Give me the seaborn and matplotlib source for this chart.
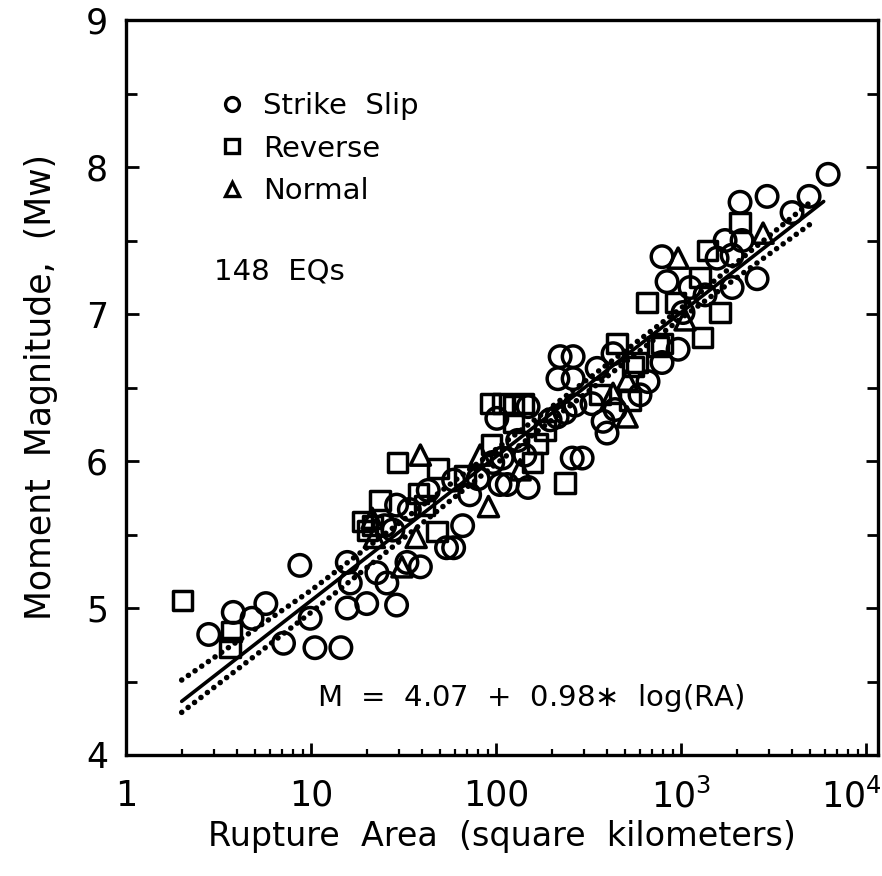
import numpy as np
import pandas as pd
import matplotlib
matplotlib.use("Agg")
import matplotlib.pyplot as plt
import matplotlib.transforms as mtrans
from matplotlib.lines import Line2D
from matplotlib.ticker import FixedLocator, NullFormatter, MultipleLocator
import seaborn as sns

# ---------------- data ----------------
ss_area = [2.8, 3.8, 4.8, 5.7, 7.1, 8.7, 9.9, 10.5, 14.5, 15.7, 16.3, 15.7, 20, 22.7,
           25.7, 29, 39, 33, 66, 54, 59, 29, 59, 101, 96, 105, 108, 115, 149, 149,
           196, 214, 236, 267, 258, 292, 222, 261, 216, 261, 352, 429, 663, 789, 330,
           379, 398, 964, 1025, 840, 789, 1566, 1888, 1730, 2137, 2084, 2917, 3980,
           4920, 6237, 2576, 1888,
           27.7, 34, 43, 72, 80, 131, 143, 440, 600, 1349, 1118, 25]
ss_mw = [4.82, 4.97, 4.93, 5.03, 4.76, 5.29, 4.93, 4.73, 4.73, 5.00, 5.17, 5.31, 5.03, 5.24,
         5.17, 5.02, 5.28, 5.31, 5.56, 5.41, 5.41, 5.70, 5.87, 6.29, 5.99, 5.84, 6.02, 5.84, 5.82, 6.37,
         6.28, 6.30, 6.33, 6.38, 6.02, 6.02, 6.71, 6.71, 6.56, 6.56, 6.63, 6.73, 6.54, 6.67, 6.39,
         6.27, 6.19, 6.76, 7.01, 7.22, 7.39, 7.38, 7.40, 7.50, 7.50, 7.76, 7.80, 7.69,
         7.80, 7.95, 7.24, 7.18,
         5.53, 5.67, 5.80, 5.77, 5.88, 6.14, 6.04, 6.35, 6.45, 7.13, 7.18, 5.56]

rv_area = [2.03, 3.7, 3.65, 18.9, 20.3, 23.6, 29.2, 37.9, 48.6, 48, 93, 109, 124, 140,
           124, 167, 95, 157, 236, 451, 550, 530, 751, 578, 655, 929, 1625, 1300, 789,
           1267, 1383, 2084, 21.4, 41, 68, 184, 365]
rv_mw = [5.05, 4.84, 4.73, 5.59, 5.53, 5.73, 5.99, 5.78, 5.95, 5.52, 6.39, 6.39, 6.38, 6.39,
         6.26, 6.12, 6.11, 5.99, 5.85, 6.80, 6.64, 6.41, 6.78, 6.67, 7.08, 7.08, 7.01, 6.84, 6.80,
         7.25, 7.43, 7.62, 5.56, 5.70, 5.90, 6.21, 6.45]

nm_area = [31, 37, 39, 82, 91, 511, 429, 511, 964, 1051, 2775, 21.4, 22, 135]
nm_mw = [5.28, 5.48, 6.04, 6.04, 5.69, 6.55, 6.46, 6.30, 7.38, 6.96, 7.55, 5.61, 5.48, 5.94]

slip_types = ["Strike Slip", "Reverse", "Normal"]
legend_labels = ["Strike  Slip", "Reverse", "Normal"]

# regression  M = a + b*log(RA)
fit_a, fit_b = 4.07, 0.98
fit_range = [2.0, 5900.0]

# dotted bands
band_area = [2.0, 10, 100, 1000, 5100]
band_upper = [4.51, 5.12, 6.08, 7.04, 7.77]
band_lower = [4.29, 4.97, 5.98, 6.97, 7.62]

xtick_vals = [1, 10, 100, 1000, 10000]
xtick_labels = ["1", "10", "100", "$10^3$", "$10^4$"]
ytick_vals = [4, 5, 6, 7, 8, 9]

# ---------------- build table ----------------
df = pd.DataFrame({
    "area": ss_area + rv_area + nm_area,
    "mw": ss_mw + rv_mw + nm_mw,
    "type": [slip_types[0]] * len(ss_area) + [slip_types[1]] * len(rv_area)
            + [slip_types[2]] * len(nm_area),
})

sns.set_style("white")
plt.rcParams["font.family"] = ["DejaVu Sans"]
plt.rcParams["mathtext.fontset"] = "dejavusans"
for k in ["text.color", "axes.labelcolor", "xtick.color", "ytick.color"]:
    plt.rcParams[k] = "black"

fig = plt.figure(figsize=(8.82, 8.76), dpi=100)
ax = fig.add_axes([126 / 882, 121 / 876, 752 / 882, 735 / 876])

markers = {slip_types[0]: "o", slip_types[1]: "s", slip_types[2]: "^"}
sizes = {slip_types[0]: 240, slip_types[1]: 190, slip_types[2]: 210}
for t in slip_types:
    sub = df[df["type"] == t]
    sns.scatterplot(data=sub, x="area", y="mw", marker=markers[t], s=sizes[t],
                    facecolor="none", edgecolor="black", linewidth=2.5,
                    ax=ax, legend=False, zorder=3)

# regression line
fx = np.array(fit_range)
fit_df = pd.DataFrame({"area": fx, "mw": fit_a + fit_b * np.log10(fx)})
sns.lineplot(data=fit_df, x="area", y="mw", color="black", linewidth=2.6, ax=ax, zorder=4)

band_df = pd.DataFrame({"area": band_area, "up": band_upper, "lo": band_lower})
n_before = len(ax.lines)
for col in ["up", "lo"]:
    sns.lineplot(data=band_df, x="area", y=col, color="black", linewidth=4.0,
                 linestyle=(0, (0.01, 1.45)), ax=ax, zorder=4)
for ln in ax.lines[n_before:]:
    ln.set_dash_capstyle("round")

ax.set_xscale("log")
ax.set_xlim(1, 11600)
ax.set_ylim(4, 9)

ax.xaxis.set_major_locator(FixedLocator(xtick_vals))
ax.set_xticklabels(xtick_labels)
ax.xaxis.set_minor_locator(FixedLocator(
    [m * d for d in [1, 10, 100, 1000] for m in range(2, 10)]))
ax.xaxis.set_minor_formatter(NullFormatter())
ax.yaxis.set_major_locator(FixedLocator(ytick_vals))
ax.yaxis.set_minor_locator(MultipleLocator(0.5))

ax.tick_params(axis="x", which="major", direction="in", length=9, width=2,
               bottom=True, top=False, labelsize=25, pad=17)
ax.tick_params(axis="x", which="minor", direction="in", length=4.5, width=1.6,
               bottom=True, top=False)
ax.tick_params(axis="y", which="both", direction="in", length=9, width=2,
               left=True, right=True, labelsize=25, pad=13)
ax.tick_params(axis="y", which="minor", length=8)

for sp in ax.spines.values():
    sp.set_linewidth(2.4)
    sp.set_color("black")

ax.set_xlabel("Rupture  Area  (square  kilometers)", fontsize=24, labelpad=4)
ax.set_ylabel("Moment  Magnitude,  (Mw)", fontsize=25, labelpad=20)

# shift the last x tick label a little left so it stays inside the figure
last = ax.get_xticklabels()[-1]
last.set_transform(last.get_transform()
                   + mtrans.ScaledTranslation(-0.15, 0, fig.dpi_scale_trans))

# legend
handles = [Line2D([], [], linestyle="none", marker=markers[t], markersize=10,
                  markerfacecolor="none", markeredgecolor="black", markeredgewidth=2.4)
           for t in slip_types]
ax.legend(handles, legend_labels, loc="upper left", bbox_to_anchor=(0.122, 0.902),
          frameon=False, fontsize=21, handlelength=1.0, handletextpad=0.55,
          labelspacing=0.5, borderpad=0, borderaxespad=0)

ax.text(3.0, 7.29, "148  EQs", fontsize=21, ha="left", va="center")
ax.text(10.8, 4.39, "M  =  4.07  +  0.98$\\ast$  log(RA)", fontsize=21,
        ha="left", va="center")

fig.savefig("out.png", dpi=100)
